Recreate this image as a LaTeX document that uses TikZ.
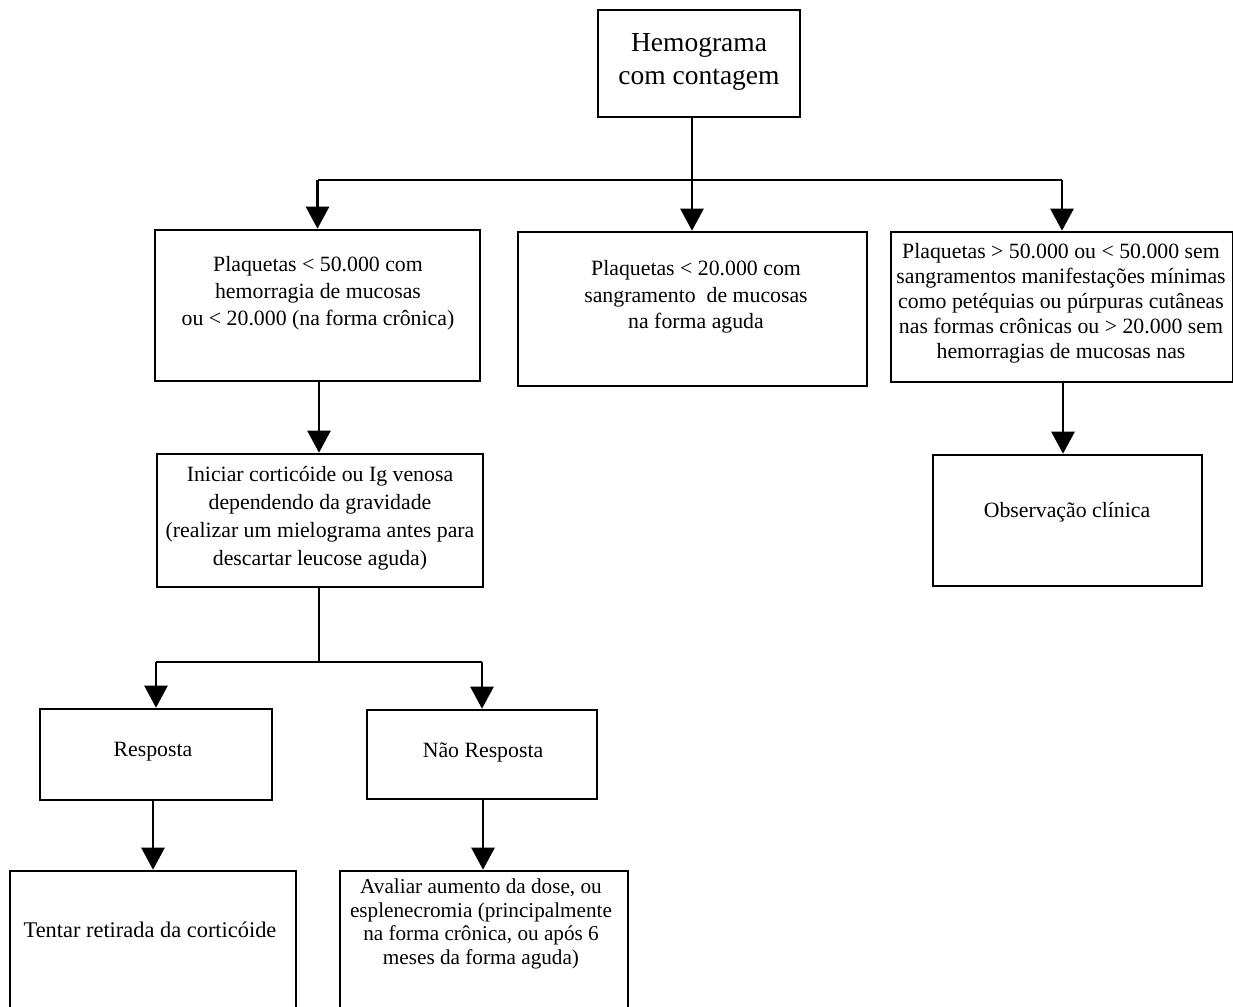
\documentclass[tikz,border=0pt]{standalone}
\usepackage{fontspec}
\setmainfont{Liberation Serif}
\usetikzlibrary{arrows.meta,positioning}

\tikzset{
  caixa/.style={draw, line width=2.6pt, inner sep=0pt},
  texto/.style={align=center, inner sep=0pt, font=\fontsize{21.8}{25}\selectfont},
  liga/.style={line width=2.6pt},
  seta/.style={line width=2.6pt, -{Triangle[width=23pt,length=22pt]}},
}

\begin{document}
\begin{tikzpicture}[x=1pt,y=-1pt]
  \useasboundingbox (0,0) rectangle (1233,1006);
  % caixas
  \node[caixa, minimum width=202pt, minimum height=107pt] (hemo) at (699,63.5) {};
  \node[caixa, minimum width=325pt, minimum height=151pt] (plq50) at (317.5,305.5) {};
  \node[caixa, minimum width=349pt, minimum height=154pt] (plq20) at (692.5,309) {};
  \node[caixa, minimum width=342pt, minimum height=150pt] (plqsem) at (1062,307) {};
  \node[caixa, minimum width=326pt, minimum height=133pt] (inic) at (320,520.5) {};
  \node[caixa, minimum width=269pt, minimum height=131pt] (obs) at (1067.5,520.5) {};
  \node[caixa, minimum width=232pt, minimum height=91pt] (resp) at (156,754.5) {};
  \node[caixa, minimum width=230pt, minimum height=89pt] (naoresp) at (482,754.5) {};
  \node[caixa, minimum width=286pt, minimum height=180pt] (tentar) at (153,961) {};
  \node[caixa, minimum width=288pt, minimum height=180pt] (avaliar) at (484,961) {};

  % textos
  \node[texto, font=\fontsize{27.5}{33}\selectfont] (themo) at (699,62) {Hemograma\\com contagem};
  \node[texto, font=\fontsize{21.8}{27}\selectfont] (tplq50) at (318,293) {Plaquetas < 50.000 com\\hemorragia de mucosas\\ou < 20.000 (na forma crônica)};
  \node[texto, font=\fontsize{21.8}{26.5}\selectfont] (tplq20) at (696,297) {Plaquetas < 20.000 com\\sangramento\ \ de mucosas\\na forma aguda};
  \node[texto] (tplqsem) at (1061,303) {Plaquetas > 50.000 ou < 50.000 sem\\sangramentos manifestações mínimas\\como petéquias ou púrpuras cutâneas\\nas formas crônicas ou > 20.000 sem\\hemorragias de mucosas nas};
  \node[texto, font=\fontsize{21.8}{28}\selectfont] (tinic) at (320,518) {Iniciar corticóide ou Ig venosa\\dependendo da gravidade\\(realizar um mielograma antes para\\descartar leucose aguda)};
  \node[texto] (tobs) at (1067,512) {Observação clínica};
  \node[texto] (tresp) at (153,752) {Resposta};
  \node[texto] (tnaoresp) at (483,752) {Não Resposta};
  \node[texto, font=\fontsize{22.4}{25}\selectfont] (ttentar) at (150,930) {Tentar retirada da corticóide};
  \node[texto, font=\fontsize{21.2}{23.5}\selectfont] (tavaliar) at (481,924) {Avaliar aumento da dose, ou\\esplenecromia (principalmente\\na forma crônica, ou após 6\\meses da forma aguda)};

  % ligacoes
  \coordinate (topo) at (692,180);
  \coordinate (meio) at (319,662);
  \coordinate (xobs) at (1063,0);
  \coordinate (xresp) at (153,0);
  \coordinate (xnao) at (483,0);
  \draw[liga] (hemo.south -| topo) -- (topo);
  \draw[liga] (plq50.north |- topo) -- (plqsem.north |- topo);
  \draw[seta] (plq50.north |- topo) -- (plq50.north);
  \draw[seta] (topo) -- (plq20.north -| topo);
  \draw[seta] (plqsem.north |- topo) -- (plqsem.north);
  \draw[seta] (plq50.south -| meio) -- (inic.north -| meio);
  \draw[seta] (plqsem.south -| xobs) -- (obs.north -| xobs);
  \draw[liga] (inic.south -| meio) -- (meio);
  \draw[liga] (resp.north |- meio) -- (naoresp.north |- meio);
  \draw[seta] (resp.north |- meio) -- (resp.north);
  \draw[seta] (naoresp.north |- meio) -- (naoresp.north);
  \draw[seta] (resp.south -| xresp) -- (tentar.north -| xresp);
  \draw[seta] (naoresp.south -| xnao) -- (avaliar.north -| xnao);
\end{tikzpicture}
\end{document}
